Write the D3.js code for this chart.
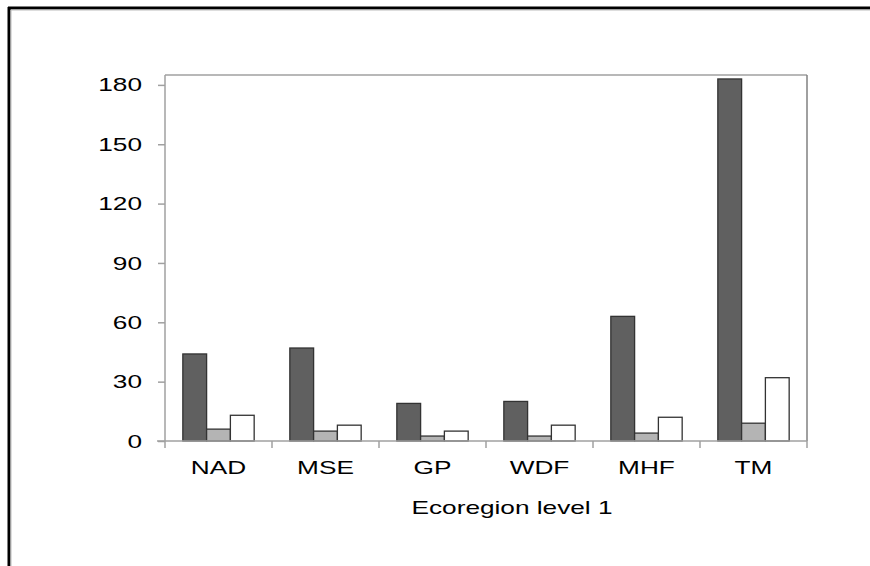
<!DOCTYPE html>
<html>
<head>
<meta charset="utf-8">
<script src="https://cdn.jsdelivr.net/npm/d3@7"></script>
<style>
  html, body { margin: 0; padding: 0; background: #fff; }
  svg { display: block; }
  text { font-family: "Liberation Sans", Arial, sans-serif; fill: #000; }
</style>
</head>
<body>
<svg id="chart" width="870" height="566"></svg>
<script>
const categories = ["NAD", "MSE", "GP", "WDF", "MHF", "TM"];
const seriesNames = ["s1", "s2", "s3"];
const series1 = [44, 47, 19, 20, 63, 183];
const series2 = [6, 5, 2.5, 2.5, 4, 9];
const series3 = [13, 8, 5, 8, 12, 32];
const yTicks = [0, 30, 60, 90, 120, 150, 180];
const xTitle = "Ecoregion level 1";
const colors = ["#606060", "#b4b4b4", "#ffffff"];

(function () {
const svg = d3.select("#chart");
const pL = 165, pR = 807, pT = 75, pB = 441;
const sx = 1.38; // horizontal stretch of the text
const fs = 19;

// outer frame
svg.append("line").attr("x1", 8).attr("x2", 870).attr("y1", 8).attr("y2", 8)
  .attr("stroke", "#000").attr("stroke-width", 3);
svg.append("line").attr("x1", 9).attr("x2", 9).attr("y1", 7).attr("y2", 566)
  .attr("stroke", "#000").attr("stroke-width", 3);
svg.append("line").attr("x1", 11).attr("x2", 870).attr("y1", 10).attr("y2", 10)
  .attr("stroke", "#bbb").attr("stroke-width", 1);
svg.append("line").attr("x1", 11).attr("x2", 11).attr("y1", 10).attr("y2", 566)
  .attr("stroke", "#bbb").attr("stroke-width", 1);

const x = d3.scaleBand().domain(categories).range([pL, pR]).paddingInner(0).paddingOuter(0);
const y = d3.scaleLinear().domain([0, 185]).range([pB, pT]);
const groupPad = x.bandwidth() / 6;
const xg = d3.scaleBand().domain(seriesNames).range([groupPad, x.bandwidth() - groupPad]);

const axisColor = "#a0a0a0";

// plot frame top & right
svg.append("line").attr("x1", pL).attr("x2", pR).attr("y1", pT).attr("y2", pT)
  .attr("stroke", axisColor).attr("stroke-width", 1.5);
svg.append("line").attr("x1", pR).attr("x2", pR).attr("y1", pT).attr("y2", pB)
  .attr("stroke", "#808080").attr("stroke-width", 1.5);

// y axis
const yAxis = d3.axisLeft(y).tickValues(yTicks).tickSize(7).tickPadding(16).tickSizeOuter(0);
const gy = svg.append("g").attr("transform", `translate(${pL},0)`).call(yAxis);
gy.select(".domain").remove();
gy.selectAll(".tick line").attr("stroke", axisColor).attr("stroke-width", 1.5);
gy.selectAll(".tick text")
  .attr("font-size", fs)
  .style("font-family", '"Liberation Sans", Arial, sans-serif')
  .attr("fill", "#000")
  .attr("x", -23 / sx)
  .attr("transform", `scale(${sx},1)`);
svg.append("line").attr("x1", pL).attr("x2", pL).attr("y1", pT).attr("y2", pB + 7)
  .attr("stroke", axisColor).attr("stroke-width", 1.5);

// bars
const data = [series1, series2, series3];
categories.forEach((c, i) => {
  data.forEach((s, j) => {
    svg.append("rect")
      .attr("x", x(c) + xg(seriesNames[j]))
      .attr("y", y(s[i]))
      .attr("width", xg.bandwidth())
      .attr("height", y(0) - y(s[i]))
      .attr("fill", colors[j])
      .attr("stroke", "#333")
      .attr("stroke-width", 1.3);
  });
});

// x axis
svg.append("line").attr("x1", pL - 8).attr("x2", pR).attr("y1", pB).attr("y2", pB)
  .attr("stroke", axisColor).attr("stroke-width", 1.5);
categories.forEach(c => {
  const xb = x(c) + x.bandwidth();
  svg.append("line").attr("x1", xb).attr("x2", xb).attr("y1", pB).attr("y2", pB + 7)
    .attr("stroke", axisColor).attr("stroke-width", 1.5);
  svg.append("text")
    .attr("transform", `translate(${x(c) + x.bandwidth() / 2},474) scale(${sx},1)`)
    .attr("text-anchor", "middle").attr("font-size", fs).text(c);
});

svg.append("text")
  .attr("transform", `translate(512,514) scale(${sx},1)`)
  .attr("text-anchor", "middle").attr("font-size", fs).text(xTitle);
})();
</script>
</body>
</html>
